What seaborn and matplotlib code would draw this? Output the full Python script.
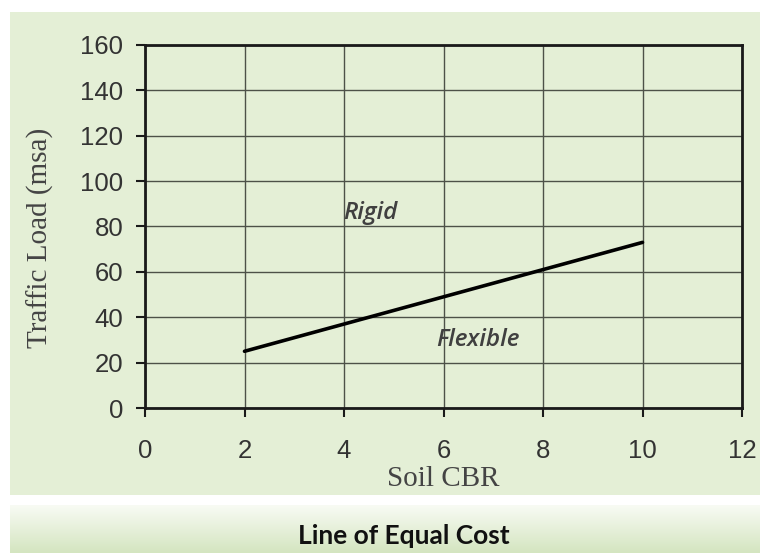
import numpy as np
import pandas as pd
import matplotlib
matplotlib.use("Agg")
import matplotlib.pyplot as plt
import seaborn as sns
from matplotlib.patches import Rectangle
from matplotlib.colors import LinearSegmentedColormap

# Data
soil_cbr = [2, 10]
traffic_load = [25, 73]
x_ticks = [0, 2, 4, 6, 8, 10, 12]
y_ticks = [0, 20, 40, 60, 80, 100, 120, 140, 160]
region_labels = ["Rigid", "Flexible"]
region_x = [4.52, 6.7]
region_y = [86, 30]

df = pd.DataFrame({"Soil CBR": soil_cbr, "Traffic Load (msa)": traffic_load})

sns.set_theme(style="white")
plt.rcParams["font.family"] = ["Liberation Sans", "DejaVu Sans"]

fig = plt.figure(figsize=(7.6, 5.53), dpi=100)
fig.patch.set_facecolor("white")
W, H = 760, 553
panel_col = "#e4efd6"
# green panel behind axes
pax = fig.add_axes([10 / W, 1 - 495 / H, 750 / W, 483 / H], zorder=-5)
pax.set_facecolor(panel_col)
pax.set_axis_off()
pax.add_patch(Rectangle((0, 0), 1, 1, transform=pax.transAxes,
                        facecolor=panel_col, edgecolor="none"))
# banner gradient
grad = np.linspace(0, 1, 100).reshape(-1, 1)
bax = fig.add_axes([10 / W, 0, 750 / W, 48 / H])
cmap = LinearSegmentedColormap.from_list("g", ["#d4e5c0", "#f8fbf4"])
bax.imshow(grad, aspect="auto", cmap=cmap, origin="lower", extent=[0, 1, 0, 1])
bax.set_axis_off()
bax.text(0.525, 0.36, "Line of Equal Cost", ha="center", va="center",
         fontsize=19, fontweight="bold", family=["Lato", "DejaVu Sans"], color="#111111")

ax = fig.add_axes([145 / W, 1 - 408 / H, (742 - 145) / W, (408 - 45) / H], zorder=2)
ax.set_facecolor(panel_col)
sns.lineplot(data=df, x="Soil CBR", y="Traffic Load (msa)", ax=ax,
             color="black", linewidth=2.6, zorder=3)

ax.set_xlim(0, 12)
ax.set_ylim(0, 160)
ax.set_xticks(x_ticks)
ax.set_yticks(y_ticks)
ax.grid(True, color="#4d5148", linewidth=1.0)
for s in ax.spines.values():
    s.set_visible(True)
    s.set_color("#1a1a1a")
    s.set_linewidth(2.0)
ax.tick_params(axis="x", direction="out", length=6.5, width=1.5, pad=16,
               labelsize=18.5, colors="#1a1a1a", labelcolor="#333333", bottom=True)
ax.tick_params(axis="y", direction="out", length=6.5, width=1.5, pad=9,
               labelsize=18.5, colors="#1a1a1a", labelcolor="#333333", left=True)
ax.set_xlabel("Soil CBR", family=["Liberation Serif", "DejaVu Serif"],
              fontsize=21, color="#444444", labelpad=2)
ax.set_ylabel("Traffic Load (msa)", family=["Liberation Serif", "DejaVu Serif"],
              fontsize=21, color="#444444")
ax.yaxis.set_label_coords(-0.152, 0.47)

for lbl, xx, yy in zip(region_labels, region_x, region_y):
    ax.text(xx, yy, lbl, ha="center", va="center", style="italic", fontweight="semibold",
            fontsize=17.5, family=["Open Sans", "DejaVu Sans"], color="#404040")

fig.savefig("out.png", dpi=100)
